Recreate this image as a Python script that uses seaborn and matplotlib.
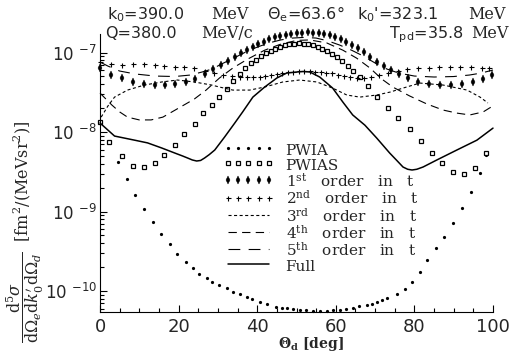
import matplotlib
matplotlib.use("Agg")
import matplotlib.pyplot as plt
import seaborn as sns
from matplotlib.ticker import FixedLocator, LogLocator, NullFormatter, MultipleLocator

# ---------------- cross sections vs. deuteron angle ----------------
pwia_deg = [0.0, 2.4, 4.5, 6.8, 8.8, 11.1, 13.4, 15.4, 17.7, 19.7, 21.8, 23.6, 25.3,
            27.1, 28.6, 30.4, 32.2, 33.8, 35.5, 37.3, 38.8, 40.6, 42.4, 44.9, 46.2,
            47.5, 49.1, 50.8, 52.4, 54.1, 56.0, 57.7, 59.3, 61.0, 62.6, 64.3, 66.0,
            67.9, 69.1, 70.4, 71.7, 73.0, 75.5, 77.6, 79.5, 81.3, 83.2, 85.5, 87.5,
            89.8, 92.1, 94.4, 96.7, 98.2]
pwia_val = [1.34e-8, 7.5e-9, 4.19e-9, 2.56e-9, 1.61e-9, 1.07e-9, 7.4e-10, 5.2e-10,
            3.9e-10, 2.92e-10, 2.32e-10, 1.95e-10, 1.66e-10, 1.46e-10, 1.30e-10,
            1.19e-10, 1.09e-10, 9.7e-11, 9.2e-11, 8.4e-11, 7.9e-11, 7.3e-11, 6.86e-11,
            6.3e-11, 6.2e-11, 6.1e-11, 5.94e-11, 5.77e-11, 5.7e-11, 5.6e-11, 5.6e-11,
            5.6e-11, 5.7e-11, 5.85e-11, 6.0e-11, 6.2e-11, 6.48e-11, 6.67e-11, 6.96e-11,
            7.3e-11, 7.7e-11, 8.2e-11, 9.2e-11, 1.06e-10, 1.30e-10, 1.73e-10, 2.45e-10,
            3.47e-10, 4.78e-10, 7.2e-10, 1.11e-9, 1.76e-9, 3.05e-9, 5.14e-9]

pwias_deg = [0.0, 2.4, 5.5, 8.3, 11.1, 13.9, 16.4, 19.2, 21.5, 24.1, 26.1, 28.4, 30.4,
             32.2, 33.9, 35.5, 37.0, 38.4, 39.7, 41.0, 42.2, 43.4, 44.6, 45.8, 47.0,
             48.2, 49.4, 50.6, 51.8, 53.0, 54.2, 55.4, 56.6, 57.8, 59.0, 60.3, 61.6,
             63.0, 64.5, 66.1, 68.2, 70.4, 73.2, 75.8, 78.9, 81.7, 84.5, 87.0, 89.8,
             92.6, 95.4, 98.2]
pwias_val = [1.34e-8, 7.5e-9, 4.99e-9, 3.73e-9, 3.63e-9, 4.07e-9, 5.14e-9, 6.86e-9,
             9.4e-9, 1.26e-8, 1.73e-8, 2.19e-8, 2.75e-8, 3.52e-8, 4.39e-8, 5.37e-8,
             6.38e-8, 7.38e-8, 8.16e-8, 9.03e-8, 9.86e-8, 1.06e-7, 1.12e-7, 1.19e-7,
             1.24e-7, 1.27e-7, 1.29e-7, 1.30e-7, 1.29e-7, 1.27e-7, 1.23e-7, 1.18e-7,
             1.12e-7, 1.05e-7, 9.7e-8, 8.8e-8, 7.8e-8, 6.86e-8, 5.94e-8, 4.99e-8,
             3.79e-8, 2.75e-8, 2.0e-8, 1.5e-8, 1.09e-8, 7.71e-9, 5.45e-9, 4.07e-9,
             3.10e-9, 2.96e-9, 3.52e-9, 5.45e-9]

first_deg = [0.0, 2.9, 5.7, 8.3, 11.1, 13.9, 16.6, 19.2, 21.8, 24.3, 26.6, 28.8, 30.8,
             32.6, 34.3, 35.9, 37.4, 38.9, 40.3, 41.7, 43.1, 44.5, 45.9, 47.3, 48.7,
             50.1, 51.5, 52.9, 54.3, 55.7, 57.1, 58.5, 59.9, 61.3, 62.7, 64.1, 65.6,
             67.1, 68.7, 70.4, 72.2, 74.1, 76.1, 78.4, 81.0, 83.7, 86.5, 89.3, 92.1,
             94.8, 97.4, 99.7]
first_val = [6.38e-8, 5.21e-8, 4.78e-8, 4.26e-8, 4.01e-8, 3.9e-8, 3.9e-8, 4.01e-8,
             4.26e-8, 4.64e-8, 5.37e-8, 6.2e-8, 6.97e-8, 7.82e-8, 8.8e-8, 9.86e-8,
             1.09e-7, 1.19e-7, 1.28e-7, 1.37e-7, 1.46e-7, 1.55e-7, 1.62e-7, 1.67e-7,
             1.72e-7, 1.76e-7, 1.78e-7, 1.79e-7, 1.78e-7, 1.75e-7, 1.71e-7, 1.65e-7,
             1.57e-7, 1.48e-7, 1.37e-7, 1.26e-7, 1.14e-7, 1.01e-7, 8.8e-8, 7.6e-8,
             6.76e-8, 6.02e-8, 5.37e-8, 4.78e-8, 4.32e-8, 4.01e-8, 3.9e-8, 3.9e-8,
             4.01e-8, 4.26e-8, 4.64e-8, 5.21e-8]

second_deg = [0.0, 2.9, 5.7, 8.5, 11.3, 13.9, 16.4, 19.0, 21.5, 24.0, 26.6, 29.0, 31.3,
              33.5, 35.5, 37.3, 39.0, 40.6, 42.1, 43.6, 45.0, 46.4, 47.8, 49.2, 50.6,
              52.0, 53.4, 54.8, 56.2, 57.6, 59.0, 60.5, 62.0, 63.6, 65.3, 67.1, 69.0,
              71.0, 73.3, 75.7, 78.2, 80.8, 83.6, 86.3, 89.0, 91.6, 94.4, 97.2, 99.0]
second_val = [7.6e-8, 7.07e-8, 6.97e-8, 7.07e-8, 7.07e-8, 6.97e-8, 6.76e-8, 6.57e-8,
              6.57e-8, 6.38e-8, 5.85e-8, 5.45e-8, 5.21e-8, 5.06e-8, 4.92e-8, 4.92e-8,
              4.92e-8, 4.99e-8, 5.06e-8, 5.21e-8, 5.37e-8, 5.52e-8, 5.69e-8, 5.77e-8,
              5.85e-8, 5.85e-8, 5.85e-8, 5.77e-8, 5.69e-8, 5.6e-8, 5.52e-8, 5.29e-8,
              5.06e-8, 4.92e-8, 4.78e-8, 4.78e-8, 4.92e-8, 5.21e-8, 5.6e-8, 5.94e-8,
              6.2e-8, 6.38e-8, 6.47e-8, 6.57e-8, 6.57e-8, 6.57e-8, 6.57e-8, 6.47e-8,
              6.38e-8]

third_deg = [0.3, 2.0, 3.7, 7.0, 11.3, 15.7, 19.7, 24.0, 28.4, 30.4, 33.8, 38.1, 41.9,
             46.5, 50.8, 55.2, 59.2, 62.8, 66.1, 70.4, 73.8, 77.1, 81.4, 87.3, 93.4,
             96.7, 98.7]
third_val = [1.54e-8, 2.12e-8, 2.75e-8, 3.37e-8, 3.9e-8, 4.26e-8, 4.51e-8, 4.26e-8,
             3.9e-8, 3.68e-8, 3.37e-8, 3.37e-8, 3.68e-8, 4.26e-8, 4.51e-8, 4.26e-8,
             3.57e-8, 2.92e-8, 2.75e-8, 2.92e-8, 3.18e-8, 3.57e-8, 4.13e-8, 3.9e-8,
             3.37e-8, 2.75e-8, 2.32e-8]

fourth_deg = [0.0, 3.0, 5.0, 7.0, 10.0, 13.0, 16.0, 20.0, 24.0, 27.0, 30.4, 33.8, 37.6,
              41.9, 45.7, 50.0, 53.4, 57.7, 61.8, 65.3, 68.7, 71.7, 74.5, 78.8, 83.2,
              87.3, 90.8, 94.1, 97.5, 99.5]
fourth_val = [3.09e-8, 2.19e-8, 1.79e-8, 1.54e-8, 1.42e-8, 1.42e-8, 1.54e-8, 2.0e-8,
              2.6e-8, 3.37e-8, 4.78e-8, 6.38e-8, 8.28e-8, 1.07e-7, 1.26e-7, 1.42e-7,
              1.44e-7, 1.32e-7, 1.07e-7, 8.5e-8, 6.38e-8, 4.64e-8, 3.68e-8, 2.84e-8,
              2.25e-8, 1.89e-8, 1.73e-8, 1.64e-8, 1.79e-8, 2.06e-8]

fifth_deg = [0.0, 2.0, 5.0, 9.0, 14.0, 19.0, 23.0, 26.0, 28.5, 31.0, 34.0, 37.0, 40.0,
             43.0, 46.0, 49.0, 52.0, 55.0, 58.0, 61.0, 64.0, 67.0, 70.0, 73.0, 76.0,
             80.0, 85.0, 90.0, 94.0, 97.0, 100.0]
fifth_val = [7.6e-8, 6.76e-8, 5.85e-8, 5.37e-8, 5.06e-8, 4.99e-8, 5.21e-8, 5.69e-8,
             6.2e-8, 7.2e-8, 8.5e-8, 1.01e-7, 1.17e-7, 1.32e-7, 1.44e-7, 1.52e-7,
             1.55e-7, 1.52e-7, 1.40e-7, 1.24e-7, 1.07e-7, 9.03e-8, 7.38e-8, 6.2e-8,
             5.52e-8, 5.06e-8, 4.92e-8, 4.99e-8, 5.21e-8, 5.52e-8, 6.02e-8]

full_deg = [0.0, 3.7, 8.8, 12.1, 15.7, 19.0, 21.0, 22.3, 23.5, 24.6, 25.6, 26.6, 27.8,
            29.2, 31.7, 34.3, 36.3, 38.9, 41.9, 45.0, 47.5, 50.1, 51.7, 53.4, 55.9,
            59.2, 61.8, 64.3, 67.4, 70.4, 73.7, 75.5, 77.1, 78.3, 79.4, 80.6, 82.2,
            85.7, 90.8, 95.9, 100.0]
full_val = [1.30e-8, 8.9e-9, 7.9e-9, 7.3e-9, 6.3e-9, 5.45e-9, 5.0e-9, 4.71e-9, 4.45e-9,
            4.32e-9, 4.39e-9, 4.71e-9, 5.2e-9, 5.94e-9, 8.65e-9, 1.30e-8, 1.79e-8,
            2.75e-8, 3.68e-8, 4.78e-8, 5.52e-8, 5.69e-8, 5.77e-8, 5.69e-8, 4.92e-8,
            3.57e-8, 2.38e-8, 1.64e-8, 1.22e-8, 8.41e-9, 5.45e-9, 4.4e-9, 3.63e-9,
            3.4e-9, 3.33e-9, 3.4e-9, 3.63e-9, 4.45e-9, 5.94e-9, 7.9e-9, 1.12e-8]

series_labels = ["PWIA", "PWIAS",
                 r"1$^{\rm st}$   order   in   t", r"2$^{\rm nd}$   order   in   t",
                 r"3$^{\rm rd}$   order   in   t", r"4$^{\rm th}$   order   in   t",
                 r"5$^{\rm th}$   order   in   t", "Full"]
x_ticks = [0, 20, 40, 60, 80, 100]
y_ticks = [1e-10, 1e-9, 1e-8, 1e-7]
y_tick_labels = [r"10 $^{-10}$", r"10 $^{-9}$", r"10 $^{-8}$", r"10 $^{-7}$"]

# ---------------- figure ----------------
sns.set_style("ticks")
plt.rcParams["font.family"] = ["DejaVu Sans"]
plt.rcParams["mathtext.fontset"] = "dejavuserif"
plt.rcParams["lines.scale_dashes"] = False

W, H = 511, 360
fig = plt.figure(figsize=(W / 100, H / 100), dpi=100)
ax = fig.add_axes([100 / W, 1 - 312 / H, 393 / W, (312 - 34) / H])

K = "black"
common = dict(ax=ax, estimator=None, sort=False, color=K, clip_on=False)

handles = []
sns.lineplot(x=pwia_deg, y=pwia_val, linestyle="", marker="o", markersize=2.3,
             markeredgewidth=0, markerfacecolor=K, markeredgecolor=K, **common)
handles.append(ax.lines[-1])
sns.lineplot(x=pwias_deg, y=pwias_val, linestyle="", marker="s", markersize=3.0,
             markeredgewidth=0.9, markerfacecolor="white", markeredgecolor=K, **common)
handles.append(ax.lines[-1])
sns.lineplot(x=first_deg, y=first_val, linestyle="", marker="d", markersize=3.6,
             markeredgewidth=0.3, markerfacecolor=K, markeredgecolor=K, **common)
handles.append(ax.lines[-1])
sns.lineplot(x=second_deg, y=second_val, linestyle="", marker="+", markersize=3.6,
             markeredgewidth=0.8, markerfacecolor=K, markeredgecolor=K, **common)
handles.append(ax.lines[-1])
sns.lineplot(x=third_deg, y=third_val, linestyle=(0, (2.2, 1.8)), linewidth=0.8, **common)
handles.append(ax.lines[-1])
sns.lineplot(x=fourth_deg, y=fourth_val, linestyle=(0, (6.0, 3.8)), linewidth=0.8, **common)
handles.append(ax.lines[-1])
sns.lineplot(x=fifth_deg, y=fifth_val, linestyle=(0, (8.5, 6.0)), linewidth=0.8, **common)
handles.append(ax.lines[-1])
sns.lineplot(x=full_deg, y=full_val, linestyle="-", linewidth=1.1, **common)
handles.append(ax.lines[-1])

ax.set_yscale("log")
ax.set_xlim(0, 100)
ax.set_ylim(5.45e-11, 1.71e-7)

sns.despine(ax=ax)
for s in ("left", "bottom"):
    ax.spines[s].set_linewidth(0.8)
    ax.spines[s].set_color(K)

ax.xaxis.set_major_locator(FixedLocator(x_ticks))
ax.xaxis.set_minor_locator(MultipleLocator(5))
ax.set_xticklabels([str(t) for t in x_ticks])
ax.yaxis.set_major_locator(FixedLocator(y_ticks))
ax.yaxis.set_minor_locator(LogLocator(base=10, subs=range(2, 10), numticks=20))
ax.yaxis.set_minor_formatter(NullFormatter())
ax.set_yticklabels(y_tick_labels)
for lab in ax.get_yticklabels():
    lab.set_math_fontfamily("dejavusans")

ax.tick_params(which="both", direction="in", color=K, width=0.8)
ax.tick_params(which="major", length=5)
ax.tick_params(which="minor", length=3)
ax.tick_params(axis="x", labelsize=13, pad=4)
ax.tick_params(axis="y", labelsize=12, pad=2)

ax.set_xlabel(r"$\mathbf{\Theta_d}$ [deg]", family="DejaVu Serif",
              fontsize=10, fontweight="bold")
ax.xaxis.set_label_coords(0.537, -0.082)

ax.set_ylabel(r"$\dfrac{\mathrm{d}^5\sigma}{\mathrm{d}\Omega_e \mathrm{d}k_0'\mathrm{d}\Omega_d}$"
              r"  [fm$^2$/(MeVsr$^2$)]", family="DejaVu Serif", fontsize=11.5)
ax.yaxis.label.set_va("center")
ax.yaxis.set_label_coords(-0.19, 0.288)

leg = ax.legend(handles, series_labels, loc="upper left",
                bbox_to_anchor=(0.313, 0.613), frameon=False, numpoints=5,
                handlelength=3.3, handletextpad=0.8, borderpad=0,
                borderaxespad=0, handleheight=1.2, labelspacing=-0.05,
                prop={"family": "DejaVu Serif", "size": 11})

# kinematics header
def put(px, py, s, serif=False):
    fig.text(px / W, 1 - py / H, s, ha="left", va="baseline",
             family="DejaVu Serif" if serif else "DejaVu Sans",
             fontsize=11.5, math_fontfamily="dejavusans")

put(107, 19, r"k$_0$=390.0")
put(211, 19, "MeV", serif=True)
put(267, 19, r"Θ$_\mathrm{e}$=63.6°")
put(357, 19, r"k$_0$'=323.1")
put(468, 19, "MeV", serif=True)
put(105, 38.5, "Q=380.0")
put(201, 38.5, "MeV/c", serif=True)
put(389, 38.5, r"T$_\mathrm{pd}$=35.8")
put(471, 38.5, "MeV", serif=True)

fig.savefig("out.png", dpi=100)
